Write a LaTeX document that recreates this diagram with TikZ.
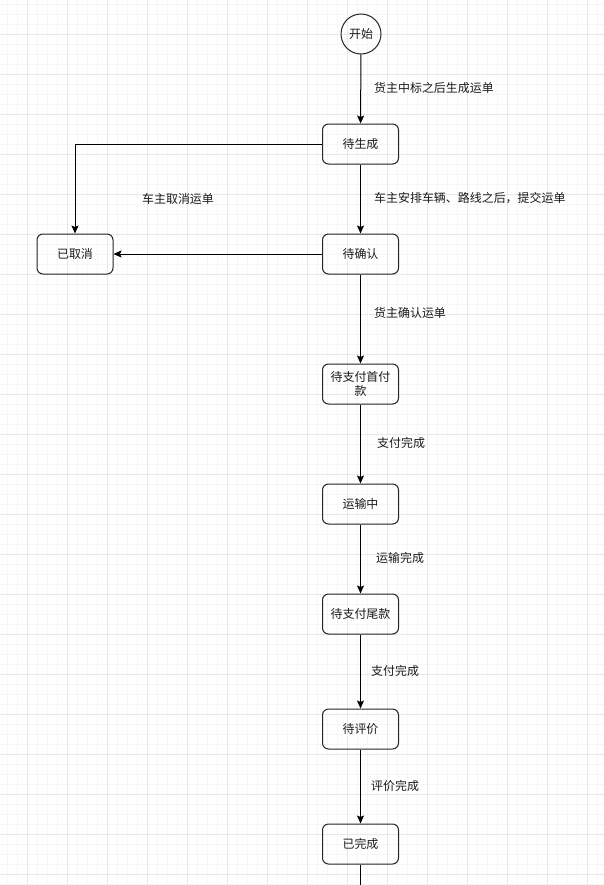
\documentclass[tikz,border=0pt]{standalone}
\usepackage{fontspec}
\newfontfamily\cjk{Noto Sans CJK SC}
\usetikzlibrary{arrows.meta}
\definecolor{gridminor}{HTML}{F6F6F6}
\definecolor{gridmajor}{HTML}{E8E8E8}
\definecolor{txt}{HTML}{1A1A1A}
\tikzset{
  state/.style={draw=black!85, line width=1bp, rounded corners=6bp,
    minimum width=76bp, minimum height=40bp, inner sep=2bp,
    font=\cjk\fontsize{12}{14}\selectfont, text=txt, align=center},
  startnode/.style={draw=black!85, line width=1bp, circle, minimum size=40bp,
    inner sep=0pt, font=\cjk\fontsize{12}{14}\selectfont, text=txt},
  flow/.style={draw=black, line width=1bp,
    -{Stealth[length=8bp,width=7bp,inset=1.5bp]}},
  lbl/.style={font=\cjk\fontsize{12}{14}\selectfont, text=txt, inner sep=0pt, anchor=west}
}
\begin{document}
\begin{tikzpicture}[x=1bp,y=-1bp]
  % canvas and background grid
  \useasboundingbox (0,0) rectangle (604,885);
  \fill[white] (0,0) rectangle (604,885);
  \foreach \gx in {7,17,...,604} \draw[gridminor, line width=1bp] (\gx,0) -- (\gx,885);
  \foreach \gy in {4,14,...,885} \draw[gridminor, line width=1bp] (0,\gy) -- (604,\gy);
  \foreach \gx in {27,67,...,604} \draw[gridmajor, line width=1bp] (\gx,0) -- (\gx,885);
  \foreach \gy in {34,74,...,885} \draw[gridmajor, line width=1bp] (0,\gy) -- (604,\gy);

  % states
  \node[startnode] (start) at (361,34) {开始};
  \node[state] (pending) at (360.5,144) {待生成};
  \node[state] (confirm) at (360.5,254) {待确认};
  \node[state] (cancel) at (75,254) {已取消};
  \node[state] (firstpay) at (360.5,384) {待支付首付\\款};
  \node[state] (transit) at (360.5,504) {运输中};
  \node[state] (finalpay) at (360.5,614) {待支付尾款};
  \node[state] (review) at (360.5,729) {待评价};
  \node[state] (done) at (360.5,844) {已完成};
  \coordinate (tail) at (360.5,885);

  % transitions
  \draw[flow] (start) -- (pending);
  \draw[flow] (pending) -- (confirm);
  \draw[flow] (pending.west) -| (cancel.north);
  \draw[flow] (confirm) -- (cancel);
  \draw[flow] (confirm) -- (firstpay);
  \draw[flow] (firstpay) -- (transit);
  \draw[flow] (transit) -- (finalpay);
  \draw[flow] (finalpay) -- (review);
  \draw[flow] (review) -- (done);
  \draw[line width=1bp] (done) -- (tail);

  % transition labels
  \node[lbl] (l1) at (374,88) {货主中标之后生成运单};
  \node[lbl] (l2) at (374,198) {车主安排车辆、路线之后，提交运单};
  \node[lbl, anchor=center] (l3) at (178,199) {车主取消运单};
  \node[lbl] (l4) at (374,313) {货主确认运单};
  \node[lbl] (l5) at (377,443) {支付完成};
  \node[lbl] (l6) at (376,558) {运输完成};
  \node[lbl] (l7) at (371,671) {支付完成};
  \node[lbl] (l8) at (371,786) {评价完成};
\end{tikzpicture}
\end{document}
